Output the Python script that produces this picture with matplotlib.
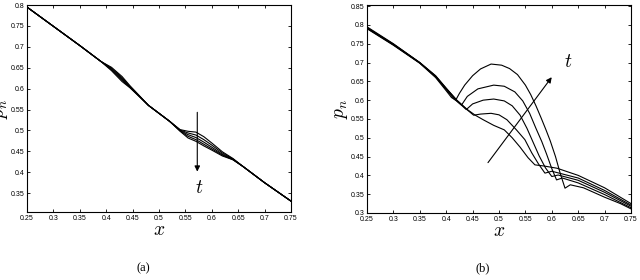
import matplotlib
matplotlib.use("Agg")
import matplotlib.pyplot as plt
from matplotlib.ticker import MultipleLocator, FuncFormatter

plt.rcParams['font.family'] = ['Liberation Sans', 'DejaVu Sans']
plt.rcParams['mathtext.fontset'] = 'cm'

# === data panel (a): 5 profiles, same x grid ===
xa = [0.25, 0.30, 0.35, 0.37, 0.39, 0.41, 0.43, 0.445, 0.46, 0.48, 0.50, 0.52,
      0.54, 0.555, 0.57, 0.585, 0.60, 0.62, 0.64, 0.66, 0.70, 0.75]
pa1 = [0.795, 0.749, 0.703, 0.684, 0.665, 0.651, 0.629, 0.607, 0.587, 0.560, 0.541, 0.522,
       0.502, 0.498, 0.496, 0.485, 0.470, 0.449, 0.433, 0.413, 0.375, 0.331]
pa2 = [0.795, 0.749, 0.703, 0.684, 0.665, 0.649, 0.626, 0.605, 0.586, 0.560, 0.541, 0.522,
       0.501, 0.494, 0.489, 0.478, 0.465, 0.446, 0.432, 0.413, 0.375, 0.331]
pa3 = [0.795, 0.749, 0.703, 0.684, 0.665, 0.647, 0.623, 0.604, 0.585, 0.560, 0.541, 0.522,
       0.500, 0.490, 0.483, 0.472, 0.460, 0.443, 0.431, 0.413, 0.375, 0.331]
pa4 = [0.795, 0.749, 0.703, 0.684, 0.665, 0.645, 0.620, 0.603, 0.585, 0.560, 0.541, 0.522,
       0.499, 0.486, 0.478, 0.467, 0.456, 0.441, 0.430, 0.413, 0.375, 0.331]
pa5 = [0.795, 0.749, 0.703, 0.684, 0.665, 0.643, 0.617, 0.602, 0.584, 0.560, 0.541, 0.522,
       0.498, 0.482, 0.474, 0.463, 0.453, 0.439, 0.430, 0.413, 0.375, 0.331]

# === data panel (b): 5 profiles, each with its own x points ===
xb1 = [0.25, 0.30, 0.35, 0.38, 0.40, 0.42, 0.44, 0.455, 0.47, 0.49, 0.51, 0.525, 0.54,
       0.555, 0.568, 0.585, 0.61, 0.65, 0.70, 0.75]
pb1 = [0.795, 0.750, 0.700, 0.665, 0.632, 0.600, 0.575, 0.560, 0.548, 0.533, 0.521, 0.500, 0.475,
       0.447, 0.428, 0.425, 0.419, 0.400, 0.367, 0.325]
xb2 = [0.25, 0.30, 0.35, 0.38, 0.40, 0.42, 0.44, 0.452, 0.465, 0.485, 0.50, 0.515, 0.533,
       0.549, 0.562, 0.575, 0.587, 0.60, 0.65, 0.70, 0.75]
pb2 = [0.793, 0.749, 0.700, 0.664, 0.631, 0.600, 0.574, 0.560, 0.563, 0.565, 0.561, 0.548, 0.521,
       0.495, 0.460, 0.430, 0.406, 0.411, 0.393, 0.360, 0.321]
xb3 = [0.25, 0.30, 0.35, 0.38, 0.40, 0.42, 0.438, 0.45, 0.47, 0.49, 0.51, 0.525, 0.54,
       0.553, 0.564, 0.576, 0.588, 0.60, 0.612, 0.65, 0.70, 0.75]
pb3 = [0.792, 0.748, 0.699, 0.663, 0.630, 0.598, 0.575, 0.590, 0.600, 0.603, 0.598, 0.585, 0.560,
       0.525, 0.490, 0.452, 0.420, 0.397, 0.401, 0.387, 0.355, 0.318]
xb4 = [0.25, 0.30, 0.35, 0.38, 0.40, 0.415, 0.429, 0.44, 0.46, 0.49, 0.51, 0.53, 0.545,
       0.558, 0.570, 0.581, 0.59, 0.60, 0.609, 0.62, 0.65, 0.70, 0.75]
pb4 = [0.791, 0.747, 0.699, 0.662, 0.628, 0.603, 0.587, 0.610, 0.630, 0.640, 0.637, 0.622, 0.598,
       0.565, 0.525, 0.490, 0.457, 0.418, 0.388, 0.393, 0.380, 0.349, 0.314]
xb5 = [0.25, 0.30, 0.35, 0.38, 0.40, 0.41, 0.418, 0.425, 0.435, 0.45, 0.465, 0.485, 0.505, 0.52,
       0.535, 0.55, 0.56, 0.57, 0.58, 0.589, 0.597, 0.607, 0.616, 0.625, 0.635, 0.66, 0.70, 0.73, 0.75]
pb5 = [0.790, 0.746, 0.698, 0.660, 0.625, 0.607, 0.600, 0.618, 0.640, 0.665, 0.683, 0.696, 0.693, 0.684,
       0.668, 0.640, 0.615, 0.585, 0.552, 0.521, 0.492, 0.450, 0.405, 0.366, 0.375, 0.367, 0.342, 0.325, 0.311]

xticks = [0.25, 0.3, 0.35, 0.4, 0.45, 0.5, 0.55, 0.6, 0.65, 0.7, 0.75]

fig = plt.figure(figsize=(6.4, 2.8), dpi=100)
ax1 = fig.add_axes([27/640, 1-212/280, 264/640, 207/280])
ax2 = fig.add_axes([367/640, 1-213/280, 264/640, 208/280])

def style(ax, ylim):
    ax.set_xlim(0.25, 0.75)
    ax.set_ylim(*ylim)
    ax.set_xticks(xticks)
    ax.yaxis.set_major_locator(MultipleLocator(0.05))
    fmt = FuncFormatter(lambda v, p: ('%.2f' % v).rstrip('0').rstrip('.'))
    ax.xaxis.set_major_formatter(fmt)
    ax.yaxis.set_major_formatter(fmt)
    ax.tick_params(direction='in', length=2.5, width=0.6, labelsize=5,
                   top=True, right=True, pad=2)
    for s in ax.spines.values():
        s.set_linewidth(0.8)
    ax.set_xlabel(r'$x$', fontsize=14, labelpad=0)
    ax.set_ylabel(r'$p_n$', fontsize=14, labelpad=0)

for y in [pa1, pa2, pa3, pa4, pa5]:
    ax1.plot(xa, y, color='black', lw=0.8)
style(ax1, (0.305, 0.8))
ax1.annotate('', xy=(0.5725, 0.395), xytext=(0.5725, 0.55),
             arrowprops=dict(arrowstyle='-|>', color='black', lw=0.8, mutation_scale=8))
ax1.text(0.5755, 0.362, r'$t$', fontsize=14, ha='center', va='center')

for xx, y in [(xb1, pb1), (xb2, pb2), (xb3, pb3), (xb4, pb4), (xb5, pb5)]:
    ax2.plot(xx, y, color='black', lw=0.8)
style(ax2, (0.3, 0.853))
ax2.annotate('', xy=(0.603, 0.667), xytext=(0.476, 0.428),
             arrowprops=dict(arrowstyle='-|>', color='black', lw=0.8, mutation_scale=8))
ax2.text(0.631, 0.70, r'$t$', fontsize=14, ha='center', va='center')

fig.text(143/640, 1-268/280, '(a)', fontsize=9, family='Liberation Serif', ha='center', va='center')
fig.text(483/640, 1-268/280, '(b)', fontsize=9, family='Liberation Serif', ha='center', va='center')

fig.savefig('out.png', dpi=100)
